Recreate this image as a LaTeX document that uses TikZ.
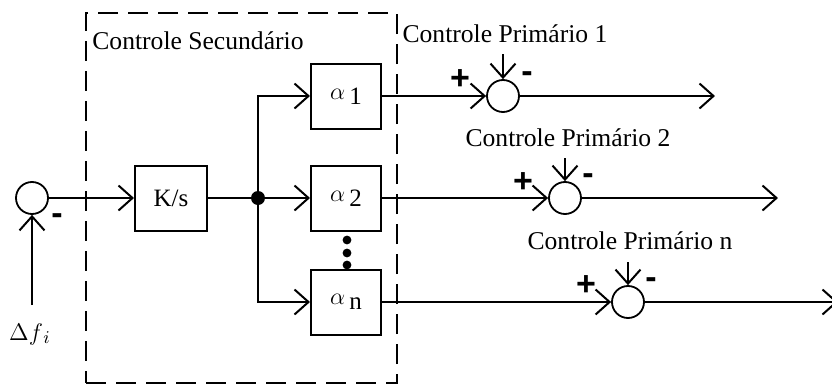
\documentclass[tikz,border=0pt]{standalone}
\usepackage{fontspec}
\setmainfont{Liberation Serif}
\setsansfont{Liberation Sans}
\usetikzlibrary{arrows.meta,positioning}

\begin{document}
\begin{tikzpicture}[
    x=0.5pt, y=-0.5pt,
    block/.style={rectangle, draw, line width=1pt, minimum width=35pt,
                  minimum height=32.5pt, font=\fontsize{12.5}{14}\selectfont},
    sumnode/.style={circle, draw, line width=0.9pt, minimum size=16pt, inner sep=0pt},
    arrow/.style={-{Straight Barb[length=7pt,width=12.5pt,line width=1pt]}, line width=1pt},
    wire/.style={line width=1pt},
    sign/.style={font=\sffamily\bfseries\fontsize{17}{17}\selectfont, inner sep=0pt},
    txt/.style={font=\fontsize{12.8}{14}\selectfont, inner sep=0pt}
]
\useasboundingbox (0,0) rectangle (832,386);

% Secondary control frame
\node[draw, line width=0.8pt, dash pattern=on 10pt off 5pt, minimum width=155.5pt,
      minimum height=185pt, inner sep=0pt] (frame) at (241.5,198) {};
\node[txt, anchor=west] (sectitle) at (92,41) {Controle Secundário};

% Blocks
\node[sumnode] (sum0) at (32,198) {};
\node[block, minimum width=36pt] (ks) at (171,198) {K/s};
\node[circle, fill, minimum size=7pt, inner sep=0pt] (junc) at (258,198) {};
\node[block] (a1) at (346,96) {$\alpha$\,\raisebox{-0.45ex}{1}};
\node[block] (a2) at (346,198) {$\alpha$\,\raisebox{-0.45ex}{2}};
\node[block] (an) at (346,302) {$\alpha$\,\raisebox{-0.45ex}{n}};

% Primary controls
\node[sumnode] (s1) at (503,96) {};
\node[sumnode] (s2) at (565,198) {};
\node[sumnode] (sn) at (628,302) {};
\node[txt] (p1) at (505,34) {Controle Primário 1};
\node[txt] (p2) at (568,138) {Controle Primário 2};
\node[txt] (pn) at (630,241) {Controle Primário n};

\coordinate (in0) at (32,305);
\coordinate (t1) at (503,54);
\coordinate (t2) at (565,158);
\coordinate (tn) at (628,262);
\coordinate (o1) at (715,96);
\coordinate (o2) at (778,198);
\coordinate (on) at (838,302);

% Arrows
\draw[arrow] (in0) -- (sum0);
\draw[arrow] (sum0) -- (ks);
\draw[wire] (ks) -- (junc);
\draw[arrow] (junc.center) |- (a1);
\draw[arrow] (junc) -- (a2);
\draw[arrow] (junc.center) |- (an);
\draw[arrow] (a1) -- (s1);
\draw[arrow] (a2) -- (s2);
\draw[arrow] (an) -- (sn);
\draw[arrow] (t1) -- (s1);
\draw[arrow] (t2) -- (s2);
\draw[arrow] (tn) -- (sn);
\draw[arrow] (s1) -- (o1);
\draw[arrow] (s2) -- (o2);
\draw[arrow] (sn) -- (on);

% Dots
\foreach \y in {240,253,265} \fill (347,\y) circle (2.2pt);

% Signs and input
\node[sign] (m0) at (57,219) {-};
\node[sign] (pl1) at (460,80) {+};
\node[sign] (mi1) at (527,77) {-};
\node[sign] (pl2) at (523,183) {+};
\node[sign] (mi2) at (588,179) {-};
\node[sign] (pln) at (586,286) {+};
\node[sign] (min) at (651,283) {-};
\node[font=\fontsize{12.5}{14}\selectfont] (df) at (30,334) {$\Delta f_{\,i}$};

\end{tikzpicture}
\end{document}
